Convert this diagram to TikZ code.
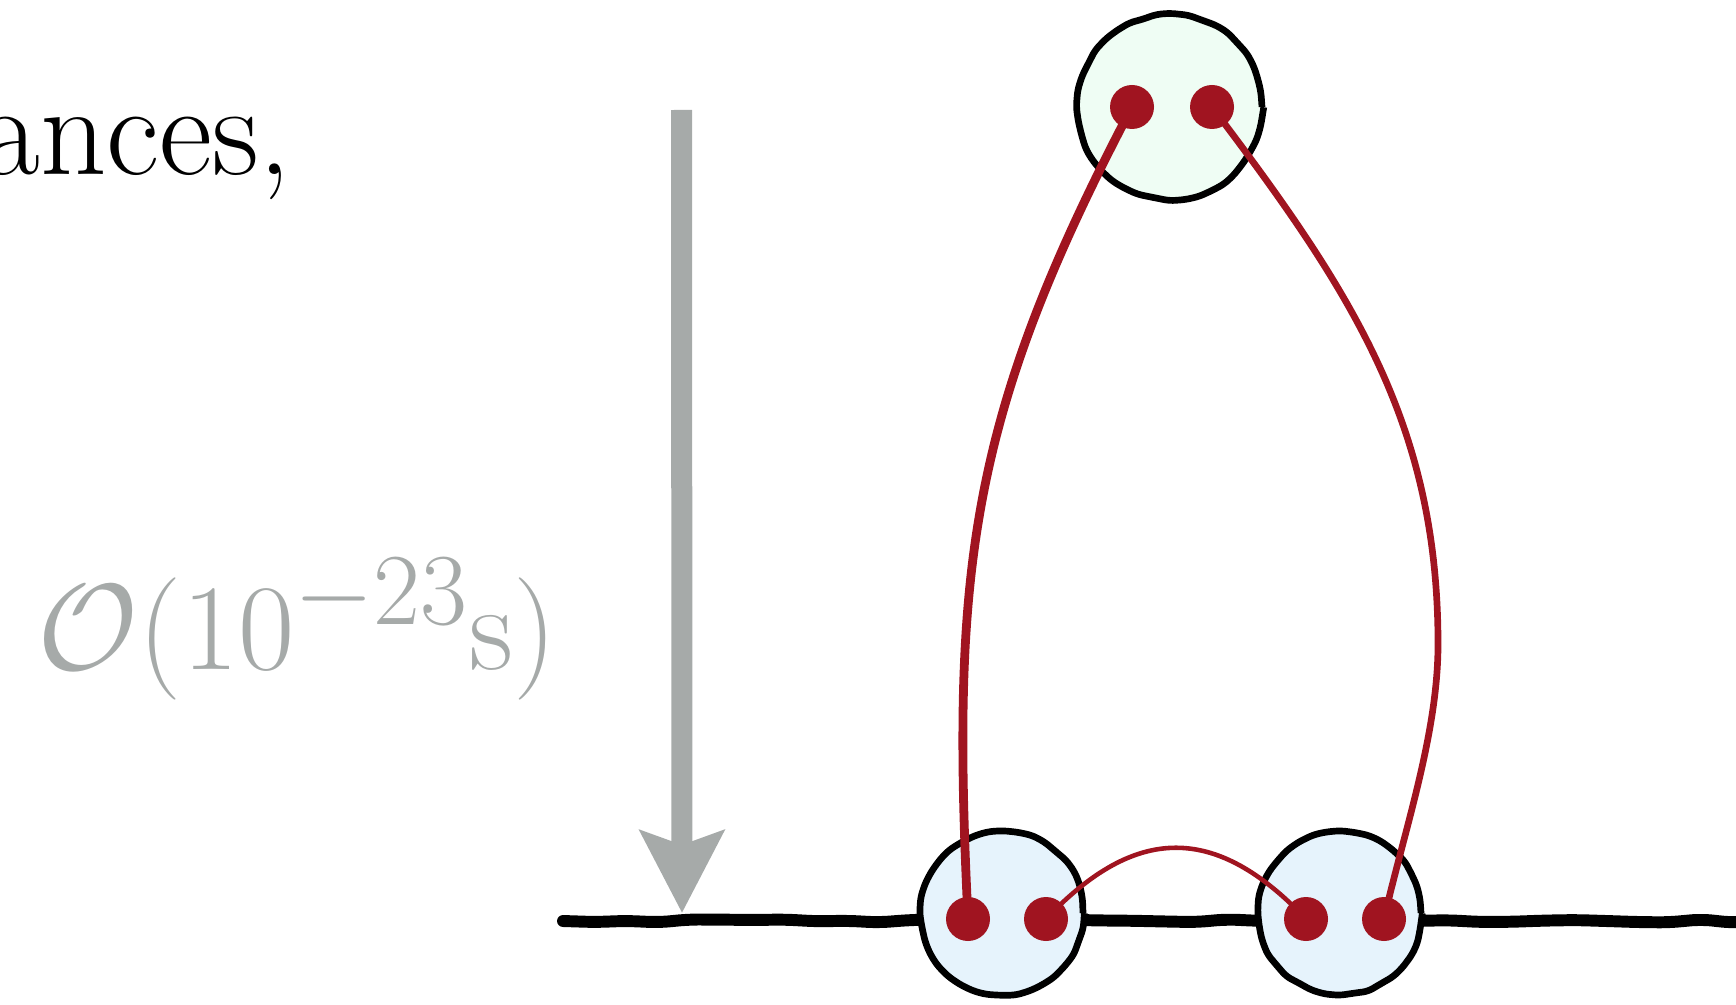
\documentclass[tikz,border=0pt]{standalone}
\usepackage{amsmath}
\usepackage{tikz}
\usetikzlibrary{arrows.meta, decorations.pathmorphing}

\definecolor{rossoquark}{RGB}{160,20,32}
\definecolor{grigio}{RGB}{166,170,169}
\definecolor{verdino}{RGB}{239,253,244}
\definecolor{azzurrino}{RGB}{230,243,252}

\begin{document}
\begin{tikzpicture}[
                % Stile dei cerchi, con il contorno tremolante come a mano
                cerchio/.style={
                    draw,
                    circle,
                    line width=1.9pt,
                    inner sep=0pt,
                    minimum size=#1,
                    decorate,
                    decoration={random steps, segment length=4pt, amplitude=0.35pt},
                    rounded corners=1.5pt
                },
                % Stile dei quark (punti rossi pieni)
                quark/.style={
                    circle,
                    fill=rossoquark,
                    inner sep=0pt,
                    minimum size=0.44cm
                },
                % Stile dei fili tra i quark
                filo/.style={
                    draw=rossoquark,
                    line width=#1
                },
                % Linea di base spessa
                linea/.style={
                    line width=3.4pt,
                    line cap=round,
                    decorate,
                    decoration={random steps, segment length=9pt, amplitude=0.5pt},
                    rounded corners=3pt
                },
                % Freccia grigia con la punta larga
                freccia/.style={
                    -{Stealth[length=0.82cm, width=0.83cm, inset=0.14cm]},
                    draw=grigio,
                    line width=0.21cm
                }
            ]
                \pgfmathsetseed{42}

                % 0. Cornice della figura
                \useasboundingbox (0,0) rectangle (17.36,10.04);
                \clip (0,0) rectangle (17.36,10.04);

                % 1. Testi
                \node [anchor=base east, inner sep=0pt, font=\fontsize{37}{42}\selectfont] (testo) at (2.92,8.29) {ances,};
                \node [anchor=base west, inner sep=0pt, text=grigio, font=\Huge, scale=1.4] (tempo) at (0.37,3.35) {$\mathcal{O}(10^{-23}\mathrm{s})$};

                % 2. Linea di base
                \coordinate (inizio) at (5.63,0.83);
                \coordinate (fine) at (17.6,0.83);
                \draw [linea] (inizio) -- (fine);

                % 3. Freccia del tempo
                \coordinate (alto) at (6.815,8.94);
                \coordinate (basso) at (6.82,0.91);
                \draw [freccia] (alto) -- (basso);

                % 4. Cerchi
                \node [cerchio=1.84cm, fill=verdino] (risonanza) at (11.70,8.97) {};
                \node [cerchio=1.62cm, fill=azzurrino] (mesoneA) at (10.02,0.91) {};
                \node [cerchio=1.62cm, fill=azzurrino] (mesoneB) at (13.40,0.91) {};

                % 5. Quark
                \node [quark] (q1) at (11.32,8.97) {};
                \node [quark] (q2) at (12.12,8.97) {};
                \node [quark] (q3) at (9.68,0.85) {};
                \node [quark] (q4) at (10.46,0.85) {};
                \node [quark] (q5) at (13.06,0.85) {};
                \node [quark] (q6) at (13.84,0.85) {};

                % 6. Fili tra i quark
                \draw [filo=2.5pt] (q1.center) .. controls +(-1.63,-3.10) and +(-0.17,3.5) .. (q3.center);
                \draw [filo=1.9pt] (q2.center) .. controls +(1.4,-1.85) and +(0,2.2) .. (14.38,3.6)
                    .. controls +(0,-0.9) and +(0.20,0.88) .. (q6.center);
                \draw [filo=1.3pt] (q4.center) .. controls +(0.9,0.95) and +(-0.9,0.95) .. (q5.center);

            \end{tikzpicture}
\end{document}
